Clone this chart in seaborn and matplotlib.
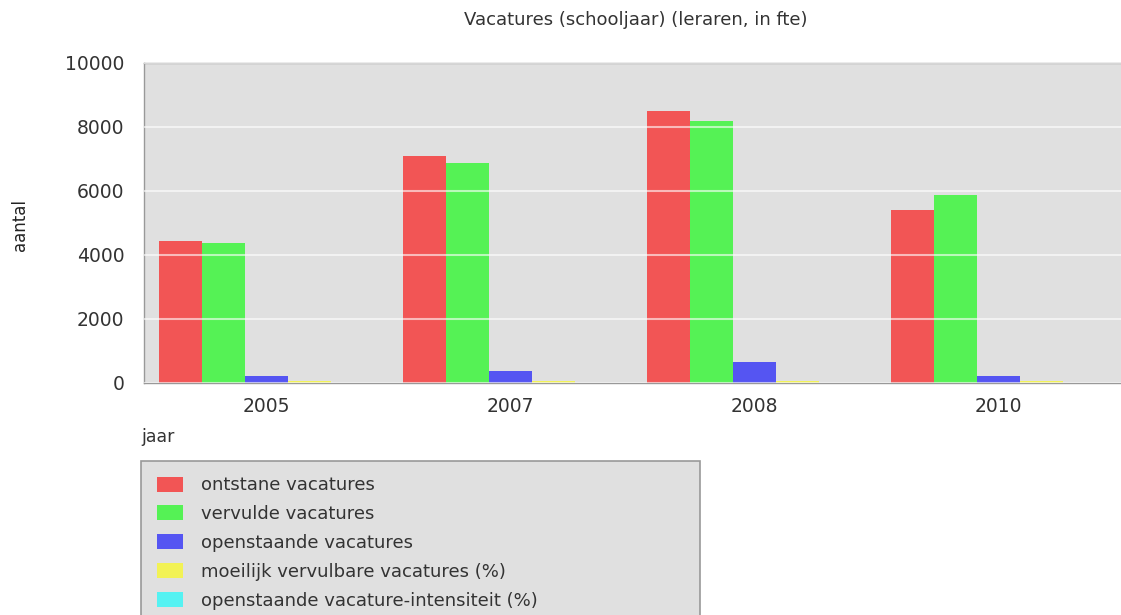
import numpy as np
import pandas as pd
import matplotlib
matplotlib.use('Agg')
import matplotlib.pyplot as plt
from matplotlib.patches import Rectangle
import seaborn as sns

years = ['2005', '2007', '2008', '2010']
series = ['ontstane vacatures', 'vervulde vacatures', 'openstaande vacatures',
          'moeilijk vervulbare vacatures (%)', 'openstaande vacature-intensiteit (%)']
ontstane = [4450, 7100, 8500, 5410]
vervulde = [4370, 6860, 8190, 5870]
openstaande = [225, 390, 655, 220]
moeilijk = [65, 65, 65, 65]
intensiteit = [3, 4, 5, 3]

colors = ['#f25555', '#55f255', '#5555f2', '#f2f255', '#55f2f2']

df = pd.DataFrame({
    'jaar': years * 5,
    'serie': np.repeat(series, len(years)),
    'aantal': ontstane + vervulde + openstaande + moeilijk + intensiteit,
})

sns.set_style('white')
plt.rcParams['font.family'] = ['DejaVu Sans']

fig = plt.figure(figsize=(11.21, 6.15), dpi=100)
ax = fig.add_axes([144/1121, 1 - 383/615, 1 - 144/1121, (383 - 63)/615])
ax.set_facecolor('#e0e0e0')

sns.barplot(data=df, x='jaar', y='aantal', hue='serie', palette=colors,
            width=0.88, gap=0, saturation=1, linewidth=0, legend=False, ax=ax)

ax.set_ylim(0, 10000)
ax.set_yticks(range(0, 10001, 2000))
ax.yaxis.grid(True, color='white', linewidth=1.5, alpha=0.6)
ax.set_axisbelow(False)
for sp in ['top', 'left', 'bottom']:
    ax.spines[sp].set_color('#999999')
    ax.spines[sp].set_linewidth(1.0)
ax.spines['right'].set_visible(False)
ax.tick_params(axis='y', length=10, color='#999999', labelsize=13.5, labelcolor='#333333', pad=4)
ax.tick_params(axis='x', length=0, labelsize=13.5, labelcolor='#333333', pad=10)
ax.set_xlabel('')
ax.set_ylabel('')

fig.text(20/1121, 1 - 225/615, 'aantal', rotation=90, ha='center', va='center',
         fontsize=12, color='#222222')
fig.text(141/1121, 1 - 437/615, 'jaar', ha='left', va='center', fontsize=12.5, color='#333333')
fig.text(636/1121, 1 - 20/615, 'Vacatures (schooljaar) (leraren, in fte)', ha='center',
         va='center', fontsize=13, color='#333333')

# legend box
fig.patches.append(Rectangle((141/1121, -0.05), (700 - 141)/1121, (615 - 461)/615 + 0.05,
                             transform=fig.transFigure, facecolor='#e0e0e0',
                             edgecolor='#999999', linewidth=1.2))
handles = [Rectangle((0, 0), 1, 1, facecolor=c, edgecolor='none') for c in colors]
fig.legend(handles, series, loc='upper left', bbox_to_anchor=(141/1121, 1 - 460/615),
           frameon=False, fontsize=13, handlelength=1.4, handleheight=0.9,
           labelspacing=0.6, handletextpad=1.0, labelcolor='#333333')

fig.savefig('out.png', dpi=100)
